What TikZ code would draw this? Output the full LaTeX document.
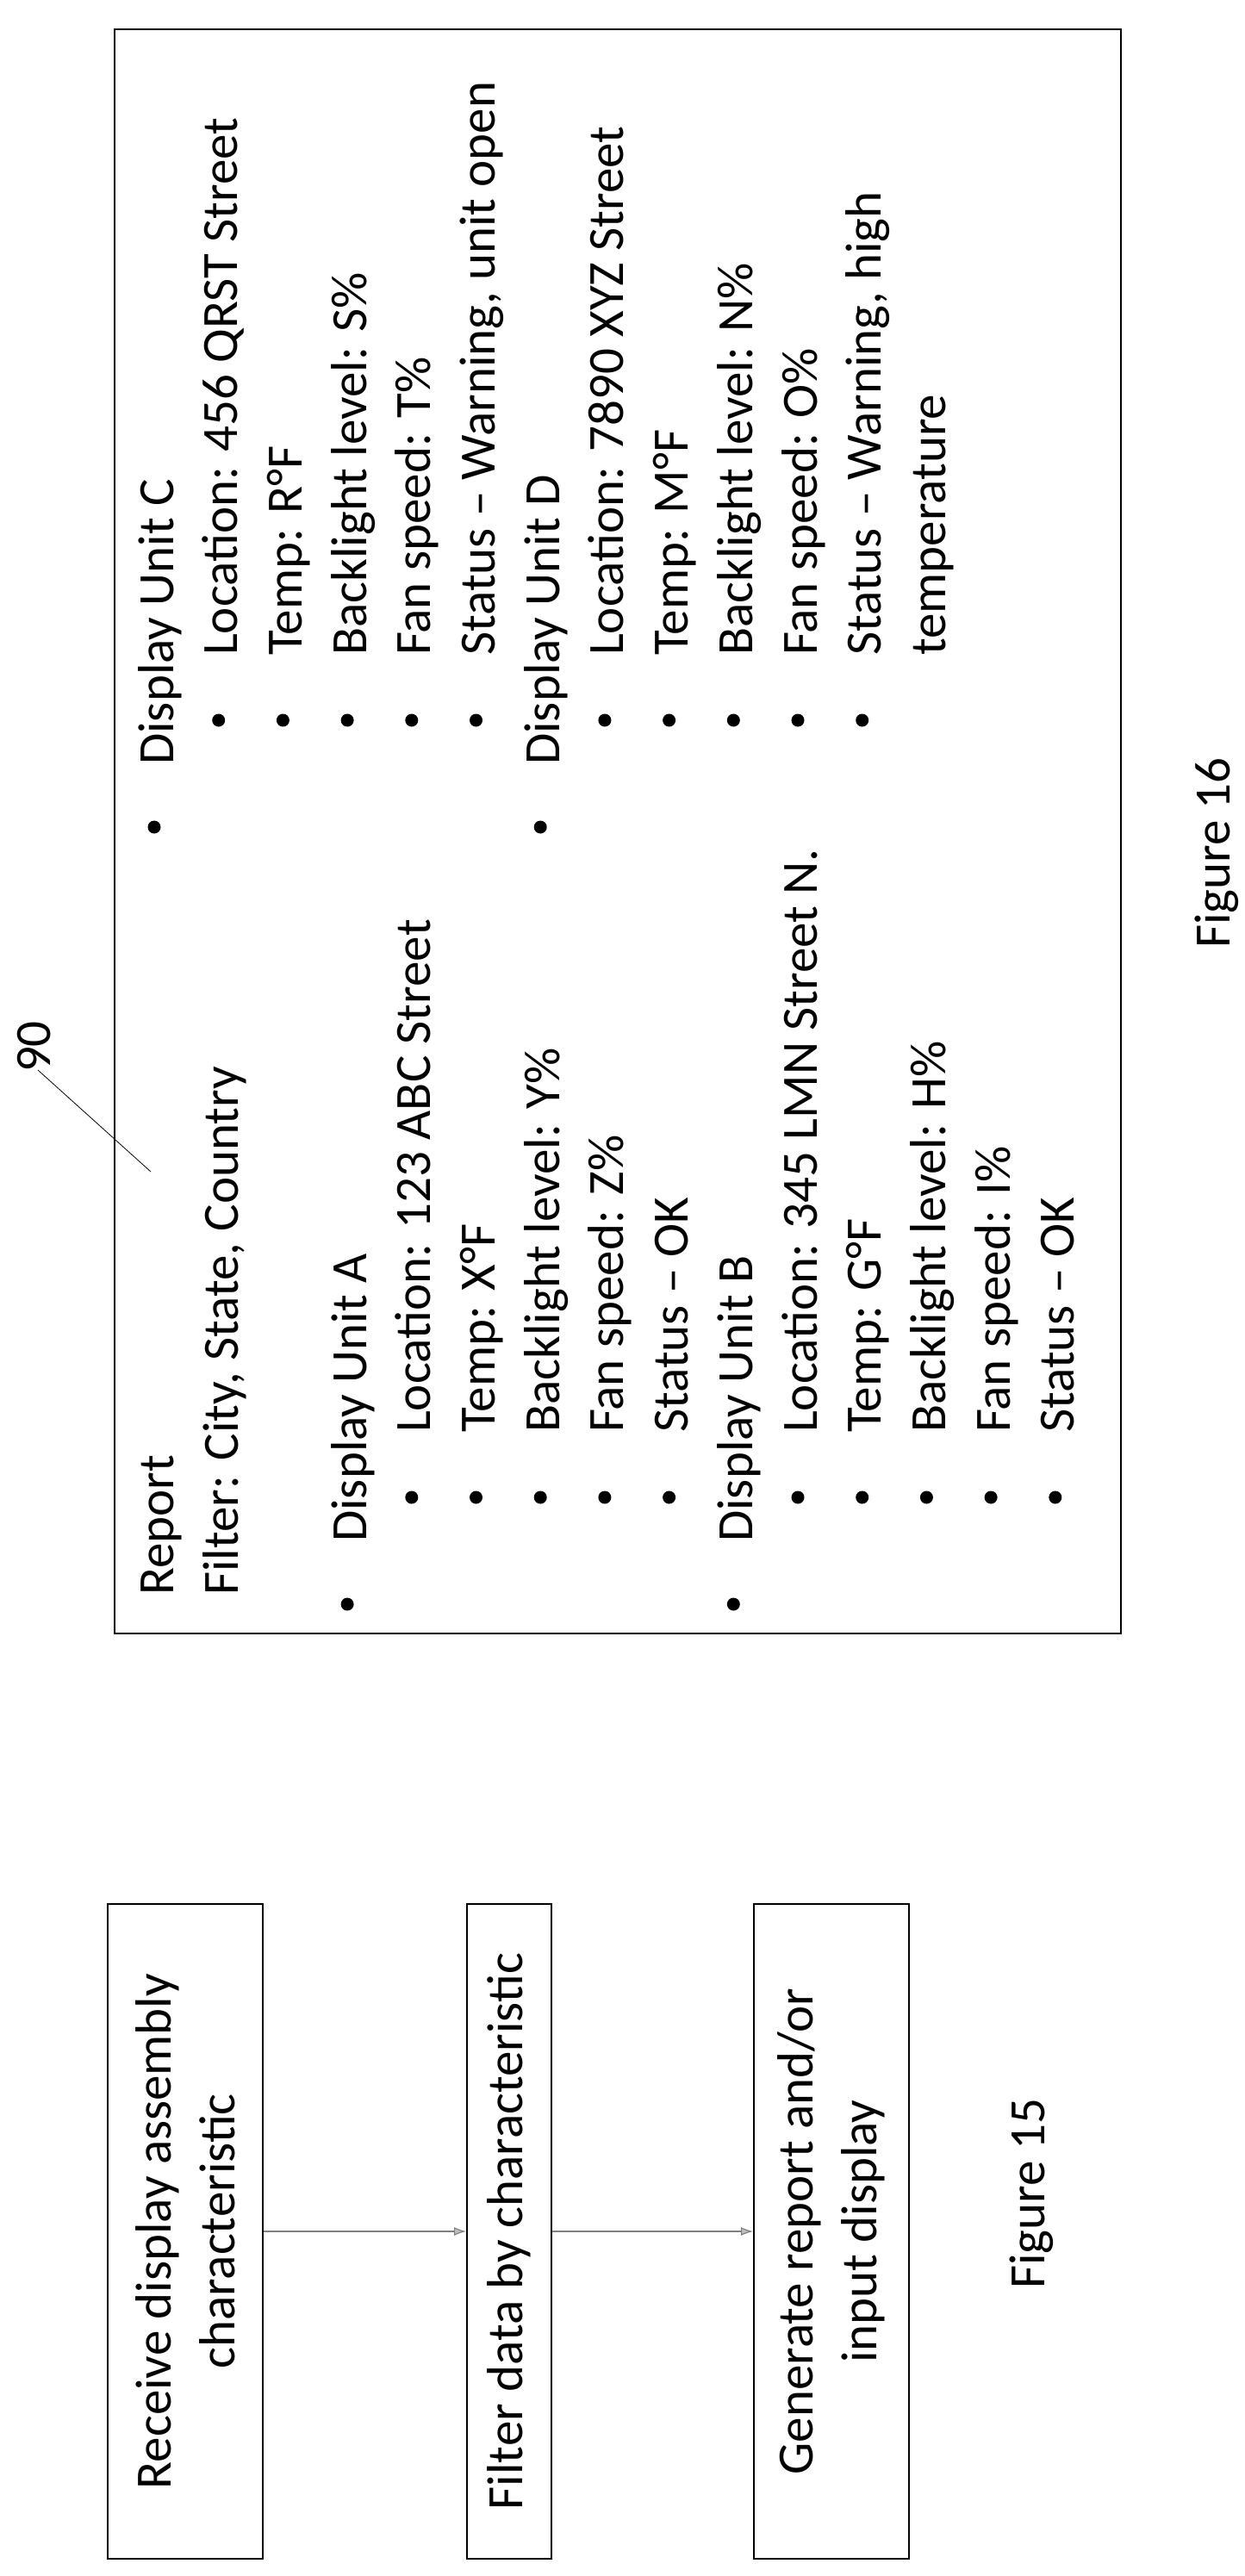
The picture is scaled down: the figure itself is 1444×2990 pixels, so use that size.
\documentclass[tikz,border=0pt]{standalone}
\usepackage{fontspec}
\setmainfont{Carlito}
\usetikzlibrary{arrows.meta}
\begin{document}
\begin{tikzpicture}[x=1pt,y=-1pt,
  every node/.style={font=\fontsize{59}{74}\selectfont, inner sep=0pt},
  ln/.style={rotate=90, anchor=base west},
  bx/.style={draw, line width=2pt, rotate=90, align=center, minimum width=760pt},
  bul/.style={fill=black}]
\useasboundingbox (0,0) rectangle (1444,2990);
% Figure 16 report box
\draw[line width=2pt] (133,34) rectangle (1301,1896);
\def\sp{74.7}
% left column
\node[ln] (rep) at (201,1852) {Report};
\node[ln] (fil) at (276,1852) {Filter: City, State, Country};
\foreach \k/\t/\lvl in {3/Display Unit A/1, 4/Location: 123 ABC Street/2, 5/Temp: X°F/2, 6/Backlight level: Y\%/2, 7/Fan speed: Z\%/2, 8/Status – OK/2, 9/Display Unit B/1, 10/Location: 345 LMN Street N./2, 11/Temp: G°F/2, 12/Backlight level: H\%/2, 13/Fan speed: I\%/2, 14/Status – OK/2}{
  \pgfmathsetmacro\bx{201+\sp*\k}
  \ifnum\lvl=1
    \fill[bul] (\bx-22,1862) circle (7.5);
    \node[ln] at (\bx,1790) {\t};
  \else
    \fill[bul] (\bx-22,1738) circle (7.5);
    \node[ln] at (\bx,1663) {\t};
  \fi
}
% right column
\foreach \k/\t/\lvl in {0/Display Unit C/1, 1/Location: 456 QRST Street/2, 2/Temp: R°F/2, 3/Backlight level: S\%/2, 4/Fan speed: T\%/2, 5/Status – Warning{,} unit open/2, 6/Display Unit D/1, 7/Location: 7890 XYZ Street/2, 8/Temp: M°F/2, 9/Backlight level: N\%/2, 10/Fan speed: O\%/2, 11/Status – Warning{,} high/2, 12/temperature/3}{
  \pgfmathsetmacro\bx{201+\sp*\k}
  \ifnum\lvl=1
    \fill[bul] (\bx-22,960) circle (7.5);
    \node[ln] at (\bx,888) {\t};
  \else\ifnum\lvl=2
    \fill[bul] (\bx-22,836) circle (7.5);
    \node[ln] at (\bx,761) {\t};
  \else
    \node[ln] at (\bx,761) {\t};
  \fi\fi
}
% label 90
\node[rotate=90] (n90) at (40,1215) {90};
\coordinate (l1) at (44,1242);
\coordinate (l2) at (175,1360);
\draw[line width=0.8pt] (l1) -- (l2);
\node[rotate=90] (f16) at (1412,990) {Figure 16};
% Figure 15
\node[bx, minimum height=180pt] (b1) at (215,2590) {Receive display assembly\\characteristic};
\node[bx, minimum height=98pt] (b2) at (591,2590) {Filter data by characteristic};
\node[bx, minimum height=180pt] (b3) at (965,2590) {Generate report and/or\\input display};
\draw[gray, line width=1.2pt, -{Latex[length=14pt,width=10pt,fill=lightgray]}] (b1.south) -- (b2.north);
\draw[gray, line width=1.2pt, -{Latex[length=14pt,width=10pt,fill=lightgray]}] (b2.south) -- (b3.north);
\node[rotate=90] (f15) at (1197,2546) {Figure 15};
\end{tikzpicture}
\end{document}
